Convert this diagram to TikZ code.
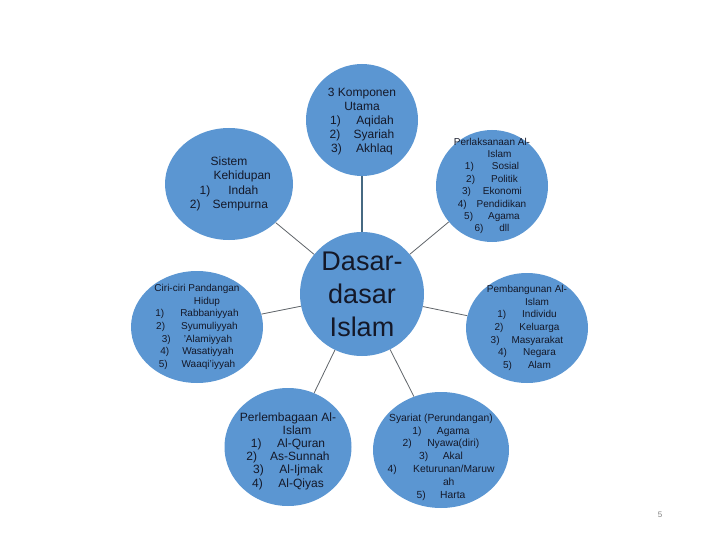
\documentclass[tikz,border=0pt]{standalone}
\usepackage{fontspec}
\setmainfont{Liberation Sans}
\usetikzlibrary{shapes.geometric}
\definecolor{bubblue}{RGB}{91,150,210}
\definecolor{txtdark}{RGB}{20,24,40}
\definecolor{linkgray}{RGB}{95,100,105}
\definecolor{stemblue}{RGB}{70,105,130}
\tikzset{
    bubble/.style={ellipse, fill=bubblue, draw=none, inner sep=0pt},
    bubtext/.style={align=center, text=txtdark, inner sep=0pt},
    link/.style={draw=linkgray, line width=0.8pt},
    stem/.style={draw=stemblue, line width=2pt}
}

\begin{document}
\begin{tikzpicture}[x=1pt,y=-1pt]
\useasboundingbox (0,0) rectangle (720,540);

\node[bubble, minimum width=124pt, minimum height=124pt] (dasar) at (362,294) {};
\node[bubble, minimum width=112pt, minimum height=112pt] (komp) at (362,120) {};
\node[bubble, minimum width=128pt, minimum height=112pt] (sistem) at (229,184) {};
\node[bubble, minimum width=112pt, minimum height=112pt] (perl) at (492,186) {};
\node[bubble, minimum width=132pt, minimum height=112pt] (ciri) at (197,327) {};
\node[bubble, minimum width=122pt, minimum height=110pt] (bangun) at (527,328) {};
\node[bubble, minimum width=127pt, minimum height=118pt] (lembaga) at (288,447) {};
\node[bubble, minimum width=136pt, minimum height=116pt] (syariat) at (441,450) {};
%%
\draw[stem] (dasar) -- (komp);
\draw[link] (dasar) -- (sistem);
\draw[link] (dasar) -- (perl);
\draw[link] (dasar) -- (ciri);
\draw[link] (dasar) -- (bangun);
\draw[link] (dasar) -- (lembaga);
\draw[link] (dasar) -- (syariat);
%%
\node[bubtext, font=\fontsize{27}{33}\selectfont] (dasartxt) at (dasar)
    {Dasar-\\dasar\\Islam};
\node[bubtext, font=\fontsize{12}{14}\selectfont] (komptxt) at ([yshift=-2pt]komp)
    {3 Komponen\\Utama\\1)\hspace{1.3em}Aqidah\\2)\hspace{1.1em}Syariah\\3)\hspace{1.2em}Akhlaq};
\node[bubtext, font=\fontsize{12}{14.5}\selectfont] (sistemtxt) at (sistem)
    {Sistem\\\hspace{2.2em}Kehidupan\\1)\hspace{1.5em}Indah\\2)\hspace{1em}Sempurna};
\node[bubtext, font=\fontsize{10}{12.4}\selectfont] (perltxt) at (perl)
    {Perlaksanaan Al-\\\hspace{1.5em}Islam\\1)\hspace{1.8em}Sosial\\2)\hspace{1.6em}Politik\\
     3)\hspace{1.2em}Ekonomi\\4)\hspace{1em}Pendidikan\\5)\hspace{1.5em}Agama\\6)\hspace{1.6em}dll};
\node[bubtext, font=\fontsize{10}{12.7}\selectfont] (ciritxt) at (ciri)
    {Ciri-ciri Pandangan\\\hspace{2em}Hidup\\1)\hspace{1.6em}Rabbaniyyah\\2)\hspace{1.6em}Syumuliyyah\\
     3)\hspace{1.3em}'Alamiyyah\\4)\hspace{1.3em}Wasatiyyah\\5)\hspace{1.4em}Waaqi'iyyah};
\node[bubtext, font=\fontsize{10}{12.7}\selectfont] (bangtxt) at (bangun)
    {Pembangunan Al-\\\hspace{2em}Islam\\1)\hspace{1.6em}Individu\\2)\hspace{1.6em}Keluarga\\
     3)\hspace{1.2em}Masyarakat\\4)\hspace{1.6em}Negara\\5)\hspace{1.6em}Alam};
\node[bubtext, font=\fontsize{12}{13.2}\selectfont] (lembtxt) at ([yshift=-4pt]lembaga)
    {Perlembagaan Al-\\\hspace{1.5em}Islam\\1)\hspace{1.3em}Al-Quran\\2)\hspace{1.1em}As-Sunnah\\
     3)\hspace{1.3em}Al-Ijmak\\4)\hspace{1.3em}Al-Qiyas};
\node[bubtext, font=\fontsize{10.3}{12.8}\selectfont] (syartxt) at ([yshift=-7pt]syariat)
    {Syariat (Perundangan)\\1)\hspace{1.5em}Agama\\2)\hspace{1.5em}Nyawa(diri)\\3)\hspace{1.4em}Akal\\
     4)\hspace{1.6em}Keturunan/Maruw\\\hspace{1.5em}ah\\5)\hspace{1.4em}Harta};
%%
\node[text=gray, font=\fontsize{8}{9}\selectfont] (pgnum) at (660,515) {5};
\end{tikzpicture}
\end{document}
